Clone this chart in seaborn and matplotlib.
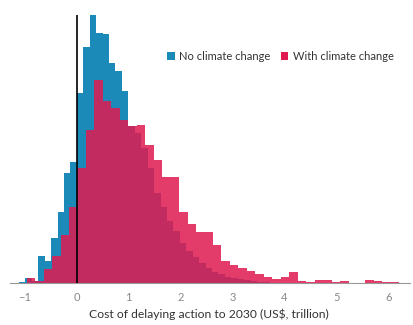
#!/usr/bin/env python3
import numpy as np
import pandas as pd
import matplotlib
matplotlib.use('Agg')
import matplotlib.pyplot as plt
from matplotlib.patches import Patch
import seaborn as sns

# ─── Datos (altura de cada barra, unidades arbitrarias) ───
BLUE_LABEL = 'No climate change'
PINK_LABEL = 'With climate change'

BLUE_WIDTH = 0.124
BLUE_START = -9 * BLUE_WIDTH
BLUE_COUNTS = [1, 5, 2.5, 27, 22, 45, 71, 110, 121,
               190, 236, 268, 250, 249, 220, 212, 192, 157,
               150, 135, 115, 90, 76, 62, 52, 40, 32, 26, 20, 15,
               11, 9, 6, 5, 4, 3, 2, 1.5, 1]

PINK_WIDTH = 0.1632
PINK_START = 0.0116 - 6 * PINK_WIDTH
PINK_COUNTS = [5, 2.5, 14, 27, 48, 76,
               115, 153, 203, 182, 175, 163, 157, 158, 138, 123, 106, 106,
               71, 59, 51, 51, 38, 22, 18, 15, 12, 9, 6.7, 4, 6, 11,
               2.7, 1, 3.3, 3.3, 1, 2, 0.5, 0.5, 3, 2, 1.5, 1]

XTICKS = [-1, 0, 1, 2, 3, 4, 5, 6]
XLABEL = 'Cost of delaying action to 2030 (US$, trillion)'

BLUE = '#1c8ab8'
PINK = '#e01a50'


def to_frame(start, width, counts):
    """Una fila por barra: centro del bin y su altura como peso."""
    n = len(counts)
    mid = start + width * (np.arange(n) + 0.5)
    return pd.DataFrame({'x': mid, 'w': counts}), (start, start + width * n)


def main():
    sns.set_style('white')
    plt.rcParams['font.family'] = ['Lato', 'DejaVu Sans']

    fig = plt.figure(figsize=(4.13, 3.25), dpi=100)
    ax = fig.add_axes([0.024, 0.128, 0.969, 0.856])

    blue_df, b_range = to_frame(BLUE_START, BLUE_WIDTH, BLUE_COUNTS)
    pink_df, p_range = to_frame(PINK_START, PINK_WIDTH, PINK_COUNTS)

    sns.histplot(data=blue_df, x='x', weights='w', binwidth=BLUE_WIDTH,
                 binrange=b_range, ax=ax, color=BLUE, alpha=1, linewidth=0)
    sns.histplot(data=pink_df, x='x', weights='w', binwidth=PINK_WIDTH,
                 binrange=p_range, ax=ax, color=PINK, alpha=0.85, linewidth=0)

    # línea vertical en cero
    ax.vlines(0, 0, max(BLUE_COUNTS), color='black', linewidth=1.2, zorder=5)

    ax.set_xlim(-1.29, 6.42)
    ax.set_ylim(0, 278)
    ax.set_yticks([])
    ax.set_ylabel('')
    ax.set_xticks(XTICKS)
    ax.set_xticklabels(['\u22121' if t == -1 else str(t) for t in XTICKS])
    ax.tick_params(axis='x', length=3, width=0.6, color='#cccccc',
                   labelsize=8, labelcolor='#888888', pad=3)
    for s in ['top', 'right', 'left']:
        ax.spines[s].set_visible(False)
    ax.spines['bottom'].set_color('#999999')
    ax.spines['bottom'].set_linewidth(0.8)
    ax.set_xlabel(XLABEL, fontsize=8.75, color='#333333')
    ax.xaxis.set_label_coords(0.496, -0.09)

    handles = [Patch(facecolor=BLUE, edgecolor='none'),
               Patch(facecolor=PINK, edgecolor='none')]
    ax.legend(handles, [BLUE_LABEL, PINK_LABEL], ncol=2, frameon=False,
              loc='center left', bbox_to_anchor=(0.368, 0.815),
              handlelength=0.7, handleheight=0.7, handletextpad=0.4,
              columnspacing=0.9, fontsize=8, labelcolor='#333333')

    fig.savefig('out.png', dpi=100)
    plt.close(fig)


if __name__ == '__main__':
    main()
